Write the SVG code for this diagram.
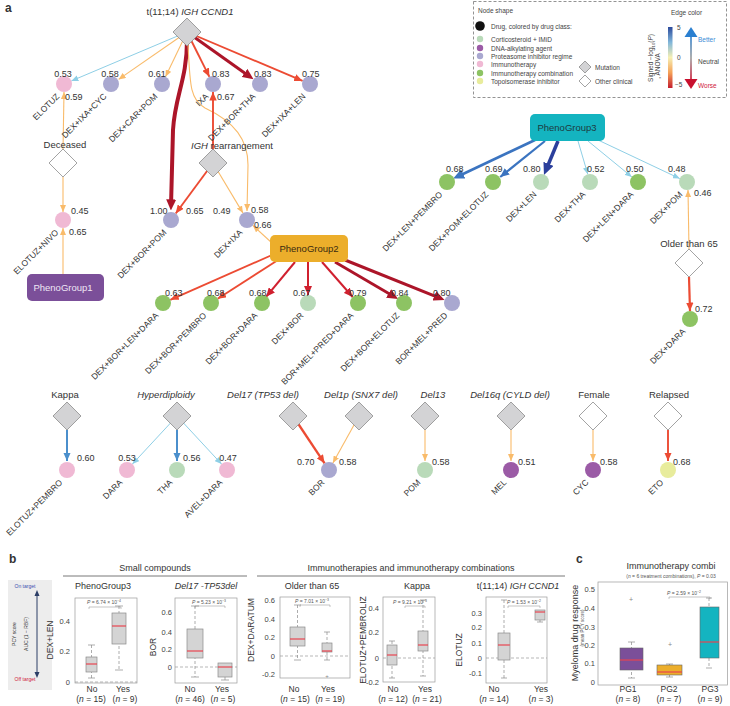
<svg xmlns="http://www.w3.org/2000/svg" width="730" height="706" viewBox="0 0 730 706">
<style>
text{font-family:"Liberation Sans",Arial,sans-serif;fill:#333}
.nl{font-size:8.5px;text-anchor:end}
.v{font-size:9px}
.vm{font-size:9px;text-anchor:middle}
.t{font-size:9.5px;text-anchor:middle}
.it{font-style:italic}
.e{fill:none}
.lb{stroke:#8ecfe6;stroke-width:1}
.or{stroke:#f9bb6a;stroke-width:1.1}
.ro{stroke:#ec4b33;stroke-width:1.9}
.cr{stroke:#d0202f;stroke-width:2}
.dr{stroke:#ac1529;stroke-width:3}
.bl{stroke:#3b74c0;stroke-width:2.2}
.db{stroke:#2b3f9c;stroke-width:3.5}
.kb{stroke:#4b8fcc;stroke-width:2}
.c-cg{fill:#b9dab9}.c-dna{fill:#9b5ba6}.c-pi{fill:#a9a8d0}.c-imm{fill:#f0b9d4}.c-ic{fill:#8dc363}.c-topo{fill:#e8ec9c}
.mut{fill:#d3d3d5;stroke:#8c8c8c;stroke-width:.8}
.cli{fill:#fff;stroke:#8c8c8c;stroke-width:.8}
.lg{font-size:6.5px;fill:#444}
.fr{fill:none;stroke:#9a9a9a;stroke-width:.7}
.bx{fill:#d4d4d4;stroke:#8a8a8a;stroke-width:.7}
.md{stroke:#e8434f;stroke-width:1.2}
.wh{stroke:#8a8a8a;stroke-width:.7;stroke-dasharray:3 2}
.cap{stroke:#8a8a8a;stroke-width:.7}
.zl{stroke:#9a9a9a;stroke-width:.7;stroke-dasharray:3 2}
.tk{font-size:7.5px;fill:#444;text-anchor:end}
.xl{font-size:8.5px;text-anchor:middle}
.pt{font-size:5px;fill:#555}
.yl{font-size:8.5px;text-anchor:middle}
.hd{font-size:9px;text-anchor:middle}
</style>
<defs>
<marker id="m-lb" markerUnits="userSpaceOnUse" markerWidth="7" markerHeight="6" viewBox="0 0 10 8" refX="10" refY="4" orient="auto" preserveAspectRatio="none"><path d="M0,0L10,4L0,8z" fill="#8ecfe6"/></marker>
<marker id="m-or" markerUnits="userSpaceOnUse" markerWidth="7" markerHeight="6" viewBox="0 0 10 8" refX="10" refY="4" orient="auto" preserveAspectRatio="none"><path d="M0,0L10,4L0,8z" fill="#f9bb6a"/></marker>
<marker id="m-ro" markerUnits="userSpaceOnUse" markerWidth="8.5" markerHeight="7.5" viewBox="0 0 10 8" refX="10" refY="4" orient="auto" preserveAspectRatio="none"><path d="M0,0L10,4L0,8z" fill="#ec4b33"/></marker>
<marker id="m-cr" markerUnits="userSpaceOnUse" markerWidth="9" markerHeight="8" viewBox="0 0 10 8" refX="10" refY="4" orient="auto" preserveAspectRatio="none"><path d="M0,0L10,4L0,8z" fill="#d0202f"/></marker>
<marker id="m-dr" markerUnits="userSpaceOnUse" markerWidth="11" markerHeight="10" viewBox="0 0 10 8" refX="6" refY="4" orient="auto" preserveAspectRatio="none"><path d="M0,0L10,4L0,8z" fill="#ac1529"/></marker>
<marker id="m-bl" markerUnits="userSpaceOnUse" markerWidth="9" markerHeight="8" viewBox="0 0 10 8" refX="10" refY="4" orient="auto" preserveAspectRatio="none"><path d="M0,0L10,4L0,8z" fill="#3b74c0"/></marker>
<marker id="m-blb" markerUnits="userSpaceOnUse" markerWidth="11" markerHeight="10" viewBox="0 0 10 8" refX="6" refY="4" orient="auto" preserveAspectRatio="none"><path d="M0,0L10,4L0,8z" fill="#3b74c0"/></marker>
<marker id="m-db" markerUnits="userSpaceOnUse" markerWidth="12" markerHeight="11" viewBox="0 0 10 8" refX="6" refY="4" orient="auto" preserveAspectRatio="none"><path d="M0,0L10,4L0,8z" fill="#2b3f9c"/></marker>
<marker id="m-kb" markerUnits="userSpaceOnUse" markerWidth="8.5" markerHeight="7.5" viewBox="0 0 10 8" refX="10" refY="4" orient="auto" preserveAspectRatio="none"><path d="M0,0L10,4L0,8z" fill="#4b8fcc"/></marker>
<linearGradient id="gbar" x1="0" y1="0" x2="0" y2="1">
<stop offset="0" stop-color="#2b4a9c"/><stop offset=".25" stop-color="#80b6da"/><stop offset=".5" stop-color="#f6f0b4"/><stop offset=".75" stop-color="#f5a057"/><stop offset="1" stop-color="#c41e2e"/>
</linearGradient>
<linearGradient id="garr" x1="0" y1="0" x2="0" y2="1">
<stop offset="0" stop-color="#2a7fd0"/><stop offset=".5" stop-color="#9a9a9a"/><stop offset="1" stop-color="#c8102e"/>
</linearGradient>
</defs>

<rect width="730" height="706" fill="#fff"/>
<text x="5" y="12" font-size="12" font-weight="bold" fill="#111">a</text>

<!-- legend -->
<g id="legend">
<rect x="473.5" y="1.5" width="253" height="96" fill="none" stroke="#777" stroke-width=".8" stroke-dasharray="3 2"/>
<text class="lg" x="478" y="13" font-size="5.8">Node shape</text>
<circle cx="480" cy="26" r="4.8" fill="#111"/>
<text class="lg" x="491" y="29">Drug, colored by drug class:</text>
<circle class="c-cg" cx="480" cy="39" r="3.2"/><text class="lg" x="491" y="41.5">Corticosteroid + IMiD</text>
<circle class="c-dna" cx="480" cy="48" r="3.2"/><text class="lg" x="491" y="50.5">DNA-alkylating agent</text>
<circle class="c-pi" cx="480" cy="56" r="3.2"/><text class="lg" x="491" y="58.5">Proteasome inhibitor regime</text>
<circle class="c-imm" cx="480" cy="64" r="3.2"/><text class="lg" x="491" y="66.5">Immunotherapy</text>
<circle class="c-ic" cx="480" cy="73" r="3.2"/><text class="lg" x="491" y="75.5">Immunotherapy combination</text>
<circle class="c-topo" cx="480" cy="81" r="3.2"/><text class="lg" x="491" y="83.5">Topoisomerase inhibitor</text>
<polygon class="mut" points="585,61 591,67 585,73 579,67"/><text class="lg" x="595" y="69.5">Mutation</text>
<polygon class="cli" points="585,75 591,81 585,87 579,81"/><text class="lg" x="595" y="83.5">Other clinical</text>
<text class="lg" x="671" y="15" font-size="6.8">Edge color</text>
<rect x="668" y="27" width="4.5" height="61" fill="url(#gbar)"/>
<text class="lg" x="677" y="30">5</text>
<text class="lg" x="677" y="60">0</text>
<text class="lg" x="675" y="87">−5</text>
<text class="lg" transform="translate(653,58) rotate(-90)" text-anchor="middle">Signed −log<tspan font-size="4.2" dy="1.5">10</tspan><tspan dy="-1.5">(</tspan><tspan font-style="italic">P</tspan>)</text>
<text class="lg" transform="translate(660,66) rotate(-90)" text-anchor="middle">, ANOVA</text>
<rect x="690.2" y="36" width="1.6" height="44" fill="url(#garr)"/>
<polygon points="684.5,37 697.5,37 691,27" fill="#2a7fd0"/>
<polygon points="684.5,79 697.5,79 691,89" fill="#c8102e"/>
<text class="lg" x="698" y="42" style="fill:#3a8bd6">Better</text>
<text class="lg" x="698" y="64">Neutral</text>
<text class="lg" x="698" y="88" style="fill:#d0203a">Worse</text>
</g>

<!-- connectors -->
<g id="connectors">
<path class="e lb" d="M187,32 L71.4,80.9" marker-end="url(#m-lb)"/>
<path class="e or" d="M187,32 L118.6,79.4" marker-end="url(#m-or)"/>
<path class="e or" d="M187,32 L165.5,76.8" marker-end="url(#m-or)"/>
<path class="e ro" d="M187,32 L209.4,76.8" marker-end="url(#m-ro)"/>
<path class="e dr" d="M187,32 L249.9,76.8" marker-end="url(#m-dr)"/>
<path class="e ro" d="M187,32 L302.6,80.9" marker-end="url(#m-ro)"/>
<path class="e dr" style="stroke-width:4" d="M187,40 C187,80 175,95 173,130 L171,206" marker-end="url(#m-dr)"/>
<path class="e or" d="M188,44 C190,85 190,100 205,108 C235,122 248,140 248,165 L247,211" marker-end="url(#m-or)"/>
<path class="e ro" d="M213,150 L213,92" marker-end="url(#m-ro)"/>
<path class="e ro" d="M213,163 L175.7,213.5" marker-end="url(#m-ro)"/>
<path class="e or" d="M213,163 L243,213.1" marker-end="url(#m-or)"/>
<path class="e or" d="M63,150 L64,92" marker-end="url(#m-or)"/>
<path class="e or" d="M63,177 L63,212" marker-end="url(#m-or)"/>
<path class="e or" d="M63,274 L63,228" marker-end="url(#m-or)"/>
<path class="e or" d="M272,243 L252.9,225.4" marker-end="url(#m-or)"/>
<path class="e ro" d="M272,255 L170.3,299.8" marker-end="url(#m-ro)"/>
<path class="e ro" d="M278,260 L217.7,298.7" marker-end="url(#m-ro)"/>
<path class="e cr" d="M295,262 L266.1,296.8" marker-end="url(#m-cr)"/>
<path class="e cr" d="M308,262 L308,295" marker-end="url(#m-cr)"/>
<path class="e cr" d="M322,262 L352.7,297" marker-end="url(#m-cr)"/>
<path class="e dr" style="stroke-width:2.8" d="M335,262 L394.3,296.8" marker-end="url(#m-dr)"/>
<path class="e dr" d="M345,260 L440.5,298.4" marker-end="url(#m-dr)"/>
<path class="e bl" style="stroke-width:2.6" d="M535,140 L457.2,176.7" marker-end="url(#m-blb)"/>
<path class="e bl" d="M545,141 L500.2,177" marker-end="url(#m-bl)"/>
<path class="e db" d="M558,141 L545.8,170.5" marker-end="url(#m-db)"/>
<path class="e lb" d="M578,141 L587.8,174.3" marker-end="url(#m-lb)"/>
<path class="e lb" d="M588,141 L631.8,176.9" marker-end="url(#m-lb)"/>
<path class="e lb" d="M598,140 L679.8,178.6" marker-end="url(#m-lb)"/>
<path class="e or" d="M689,249 L688,190" marker-end="url(#m-or)"/>
<path class="e ro" style="stroke-width:2.2" d="M689,277 L690,311" marker-end="url(#m-ro)"/>
<path class="e kb" d="M67,430 L67,461" marker-end="url(#m-kb)"/>
<path class="e lb" d="M177,416 L132.4,464.1" marker-end="url(#m-lb)"/>
<path class="e kb" d="M177,430 L177,461" marker-end="url(#m-kb)"/>
<path class="e lb" d="M177,416 L221.6,464.1" marker-end="url(#m-lb)"/>
<path class="e ro" style="stroke-width:2.3" d="M293,416 L324.6,463.3" marker-end="url(#m-ro)"/>
<path class="e or" d="M359,416 L332.9,463" marker-end="url(#m-or)"/>
<path class="e or" d="M425,430 L425,461" marker-end="url(#m-or)"/>
<path class="e or" d="M511,430 L511,461" marker-end="url(#m-or)"/>
<path class="e or" d="M593,430 L593,461" marker-end="url(#m-or)"/>
<path class="e ro" d="M668,430 L668,461" marker-end="url(#m-ro)"/>
</g>

<!-- clinical / mutation nodes -->
<g id="n-t1114"><polygon class="mut" points="187,18 201,32 187,46 173,32"/><text class="t" x="190" y="15">t(11;14) <tspan class="it">IGH CCND1</tspan></text></g>
<g id="n-deceased"><polygon class="cli" points="63,149 77,163 63,177 49,163"/><text class="t" x="65" y="148">Deceased</text></g>
<g id="n-igh"><polygon class="mut" points="213,149 227,163 213,177 199,163"/><text class="t" x="232" y="149"><tspan class="it">IGH</tspan> rearrangement</text></g>
<g id="n-older65"><polygon class="cli" points="689,249 703,263 689,277 675,263"/><text class="t" x="689" y="247">Older than 65</text></g>
<g id="n-kappa"><polygon class="mut" points="67,402 81,416 67,430 53,416"/><text class="t" x="65" y="398">Kappa</text></g>
<g id="n-hyper"><polygon class="mut" points="177,402 191,416 177,430 163,416"/><text class="t it" x="166" y="398">Hyperdiploidy</text></g>
<g id="n-del17"><polygon class="mut" points="293,402 307,416 293,430 279,416"/><text class="t it" x="263" y="398">Del17 (TP53 del)</text></g>
<g id="n-del1p"><polygon class="mut" points="359,402 373,416 359,430 345,416"/><text class="t it" x="361" y="398">Del1p (SNX7 del)</text></g>
<g id="n-del13"><polygon class="mut" points="425,402 439,416 425,430 411,416"/><text class="t it" x="433" y="398">Del13</text></g>
<g id="n-del16q"><polygon class="mut" points="511,402 525,416 511,430 497,416"/><text class="t it" x="510" y="398">Del16q (CYLD del)</text></g>
<g id="n-female"><polygon class="cli" points="593,402 607,416 593,430 579,416"/><text class="t" x="594" y="398">Female</text></g>
<g id="n-relapsed"><polygon class="cli" points="668,402 682,416 668,430 654,416"/><text class="t" x="669" y="398">Relapsed</text></g>

<g id="n-pg1"><rect x="27" y="274" width="77" height="27" rx="5" fill="#7b4f99"/><text class="t" x="63" y="291" style="fill:#efe6f5">PhenoGroup1</text></g>
<g id="n-pg2"><rect x="270" y="235" width="78" height="27" rx="5" fill="#ecae2b"/><text class="t" x="309" y="252" style="fill:#3a2a10">PhenoGroup2</text></g>
<g id="n-pg3"><rect x="530" y="114" width="75" height="27" rx="5" fill="#14b4c0"/><text class="t" x="567" y="131" style="fill:#1d3b40">PhenoGroup3</text></g>

<!-- drug nodes -->
<g id="n-elotuz"><circle class="c-imm" cx="64" cy="84" r="8"/><text class="vm" x="63" y="77">0.53</text><text class="v" x="65" y="100">0.59</text><text class="nl" transform="translate(60,97) rotate(-45)">ELOTUZ</text></g>
<g id="n-dexixacyc"><circle class="c-pi" cx="111" cy="84" r="8"/><text class="vm" x="110" y="77">0.58</text><text class="nl" transform="translate(107,97) rotate(-45)">DEX+IXA+CYC</text></g>
<g id="n-dexcarpom"><circle class="c-pi" cx="162" cy="84" r="8"/><text class="vm" x="157" y="77">0.61</text><text class="nl" transform="translate(158,97) rotate(-45)">DEX+CAR+POM</text></g>
<g id="n-ixa"><circle class="c-pi" cx="213" cy="84" r="8"/><text class="v" x="212" y="77">0.83</text><text class="v" x="217" y="100">0.67</text><text class="nl" transform="translate(209,97) rotate(-45)">IXA</text></g>
<g id="n-dexbortha"><circle class="c-pi" cx="260" cy="84" r="8"/><text class="v" x="254" y="77">0.83</text><text class="nl" transform="translate(256,97) rotate(-45)">DEX+BOR+THA</text></g>
<g id="n-dexixalen"><circle class="c-pi" cx="310" cy="84" r="8"/><text class="v" x="302" y="77">0.75</text><text class="nl" transform="translate(306,97) rotate(-45)">DEX+IXA+LEN</text></g>

<g id="n-elotuznivo"><circle class="c-imm" cx="63" cy="220" r="8"/><text class="v" x="71" y="214">0.45</text><text class="v" x="69" y="235">0.65</text><text class="nl" transform="translate(59,233) rotate(-45)">ELOTUZ+NIVO</text></g>
<g id="n-dexborpom"><circle class="c-pi" cx="171" cy="220" r="8"/><text class="v" x="150" y="214">1.00</text><text class="v" x="186" y="214">0.65</text><text class="nl" transform="translate(167,233) rotate(-45)">DEX+BOR+POM</text></g>
<g id="n-dexixa"><circle class="c-pi" cx="247" cy="220" r="8"/><text class="v" x="213" y="214">0.49</text><text class="v" x="251" y="213">0.58</text><text class="v" x="254" y="228">0.66</text><text class="nl" transform="translate(243,233) rotate(-45)">DEX+IXA</text></g>

<g id="n-dexborlendara"><circle class="c-ic" cx="163" cy="303" r="8"/><text class="v" x="165" y="296">0.63</text><text class="nl" transform="translate(159,316) rotate(-45)">DEX+BOR+LEN+DARA</text></g>
<g id="n-dexborpembro"><circle class="c-ic" cx="211" cy="303" r="8"/><text class="v" x="207" y="296">0.68</text><text class="nl" transform="translate(207,316) rotate(-45)">DEX+BOR+PEMBRO</text></g>
<g id="n-dexbordara"><circle class="c-ic" cx="262" cy="303" r="8"/><text class="v" x="249" y="296">0.68</text><text class="nl" transform="translate(258,316) rotate(-45)">DEX+BOR+DARA</text></g>
<g id="n-dexbor"><circle class="c-cg" cx="308" cy="303" r="8"/><text class="v" x="293" y="296">0.67</text><text class="nl" transform="translate(304,316) rotate(-45)">DEX+BOR</text></g>
<g id="n-bormelpreddara"><circle class="c-ic" cx="358" cy="303" r="8"/><text class="v" x="349" y="296">0.79</text><text class="nl" transform="translate(354,316) rotate(-45)">BOR+MEL+PRED+DARA</text></g>
<g id="n-dexborelotuz"><circle class="c-ic" cx="404" cy="303" r="8"/><text class="v" x="391" y="296">0.84</text><text class="nl" transform="translate(400,316) rotate(-45)">DEX+BOR+ELOTUZ</text></g>
<g id="n-bormelpred"><circle class="c-pi" cx="452" cy="303" r="8"/><text class="v" x="433" y="296">0.80</text><text class="nl" transform="translate(448,316) rotate(-45)">BOR+MEL+PRED</text></g>

<g id="n-dexlenpembro"><circle class="c-ic" cx="447" cy="182" r="8"/><text class="v" x="446" y="172">0.68</text><text class="nl" transform="translate(443,195) rotate(-45)">DEX+LEN+PEMBRO</text></g>
<g id="n-dexpomelotuz"><circle class="c-ic" cx="493" cy="182" r="8"/><text class="v" x="485" y="172">0.69</text><text class="nl" transform="translate(489,195) rotate(-45)">DEX+POM+ELOTUZ</text></g>
<g id="n-dexlen"><circle class="c-cg" cx="541" cy="182" r="8"/><text class="v" x="523" y="172">0.80</text><text class="nl" transform="translate(537,195) rotate(-45)">DEX+LEN</text></g>
<g id="n-dextha"><circle class="c-cg" cx="590" cy="182" r="8"/><text class="v" x="587" y="172">0.52</text><text class="nl" transform="translate(586,195) rotate(-45)">DEX+THA</text></g>
<g id="n-dexlendara"><circle class="c-ic" cx="638" cy="182" r="8"/><text class="v" x="626" y="172">0.50</text><text class="nl" transform="translate(634,195) rotate(-45)">DEX+LEN+DARA</text></g>
<g id="n-dexpom"><circle class="c-cg" cx="687" cy="182" r="8"/><text class="v" x="668" y="172">0.48</text><text class="v" x="694" y="196">0.46</text><text class="nl" transform="translate(683,195) rotate(-45)">DEX+POM</text></g>
<g id="n-dexdara"><circle class="c-ic" cx="690" cy="319" r="8"/><text class="v" x="695" y="312">0.72</text><text class="nl" transform="translate(686,332) rotate(-45)">DEX+DARA</text></g>

<g id="n-elotuzpembro"><circle class="c-imm" cx="67" cy="470" r="8"/><text class="v" x="77" y="461">0.60</text><text class="nl" transform="translate(63,483) rotate(-45)">ELOTUZ+PEMBRO</text></g>
<g id="n-dara"><circle class="c-imm" cx="127" cy="470" r="8"/><text class="vm" x="127" y="461">0.53</text><text class="nl" transform="translate(123,483) rotate(-45)">DARA</text></g>
<g id="n-tha"><circle class="c-cg" cx="177" cy="470" r="8"/><text class="v" x="183" y="461">0.56</text><text class="nl" transform="translate(173,483) rotate(-45)">THA</text></g>
<g id="n-aveldara"><circle class="c-imm" cx="227" cy="470" r="8"/><text class="vm" x="228" y="461">0.47</text><text class="nl" transform="translate(223,483) rotate(-45)">AVEL+DARA</text></g>
<g id="n-bor"><circle class="c-pi" cx="329" cy="470" r="8"/><text class="v" x="297" y="465">0.70</text><text class="v" x="339" y="465">0.58</text><text class="nl" transform="translate(325,483) rotate(-45)">BOR</text></g>
<g id="n-pom"><circle class="c-cg" cx="425" cy="470" r="8"/><text class="v" x="432" y="465">0.58</text><text class="nl" transform="translate(421,483) rotate(-45)">POM</text></g>
<g id="n-mel"><circle class="c-dna" cx="511" cy="470" r="8"/><text class="v" x="518" y="465">0.51</text><text class="nl" transform="translate(507,483) rotate(-45)">MEL</text></g>
<g id="n-cyc"><circle class="c-dna" cx="593" cy="470" r="8"/><text class="v" x="600" y="465">0.58</text><text class="nl" transform="translate(589,483) rotate(-45)">CYC</text></g>
<g id="n-eto"><circle class="c-topo" cx="668" cy="470" r="8"/><text class="v" x="673" y="465">0.68</text><text class="nl" transform="translate(664,483) rotate(-45)">ETO</text></g>

<!-- panel b -->
<text x="9" y="563" font-size="12" font-weight="bold" fill="#111">b</text>
<text class="hd" x="155" y="571">Small compounds</text>
<line x1="63" y1="576" x2="247" y2="576" stroke="#555" stroke-width=".8"/>
<text class="hd" x="411" y="571">Immunotherapies and immunotherapy combinations</text>
<line x1="257" y1="576" x2="565" y2="576" stroke="#555" stroke-width=".8"/>

<g id="b-legend">
<rect x="8" y="580" width="44" height="110" fill="#ededed"/>
<text x="25" y="588" font-size="5" text-anchor="middle" style="fill:#3d4fb0">On target</text>
<text x="25" y="681" font-size="5" text-anchor="middle" style="fill:#d0203a">Off target</text>
<line x1="37" y1="594" x2="37" y2="674" stroke="#2c3e66" stroke-width="1"/>
<polygon points="34.5,596 39.5,596 37,590" fill="#2c3e66"/>
<polygon points="34.5,672 39.5,672 37,678" fill="#2c3e66"/>
<text transform="translate(16,634) rotate(-90)" font-size="5" text-anchor="middle">PCY score</text>
<text transform="translate(28,634) rotate(-90)" font-size="5" text-anchor="middle">AUC (1 − RBF)</text>
</g>

<g id="b-plot1">
<text class="hd" x="103" y="589">PhenoGroup3</text>
<rect class="fr" x="75" y="598" width="62" height="85"/>
<text class="tk" x="70" y="624">0.4</text><text class="tk" x="70" y="654">0.2</text><text class="tk" x="70" y="685">0</text>
<text class="yl" transform="translate(53,640) rotate(-90)">DEX+LEN</text>
<line class="zl" x1="75" y1="682" x2="137" y2="682"/>
<line class="wh" x1="91.5" y1="645" x2="91.5" y2="678"/>
<line class="cap" x1="88" y1="645" x2="95" y2="645"/><line class="cap" x1="88" y1="678" x2="95" y2="678"/>
<rect class="bx" x="86" y="657" width="11" height="15"/><line class="md" x1="86" y1="664" x2="97" y2="664"/>
<line class="wh" x1="119" y1="606" x2="119" y2="670"/>
<line class="cap" x1="115" y1="606" x2="123" y2="606"/><line class="cap" x1="115" y1="670" x2="123" y2="670"/>
<rect class="bx" x="112" y="613" width="14" height="31"/><line class="md" x1="112" y1="626" x2="126" y2="626"/>
<text class="pt" x="87" y="604"><tspan font-style="italic">P</tspan> = 6.74 × 10<tspan dy="-2" font-size="3.5">−4</tspan></text>
<path d="M89,609 V607 H121 V609" fill="none" stroke="#888" stroke-width=".5"/>
<text class="xl" x="92" y="692">No</text><text class="xl" x="123" y="692">Yes</text>
<text class="xl" x="91" y="702">(<tspan font-style="italic">n</tspan> = 15)</text><text class="xl" x="125" y="702">(<tspan font-style="italic">n</tspan> = 9)</text>
</g>

<g id="b-plot2">
<text class="hd it" x="206" y="589">Del17 -TP53del</text>
<rect class="fr" x="175" y="598" width="62" height="85"/>
<text class="tk" x="172" y="615">0.6</text><text class="tk" x="172" y="635">0.4</text><text class="tk" x="172" y="652">0.2</text><text class="tk" x="172" y="670">0</text>
<text class="yl" transform="translate(156,647) rotate(-90)">BOR</text>
<line class="zl" x1="175" y1="667" x2="237" y2="667"/>
<line class="wh" x1="195" y1="606" x2="195" y2="677"/>
<line class="cap" x1="191" y1="606" x2="199" y2="606"/><line class="cap" x1="191" y1="677" x2="199" y2="677"/>
<rect class="bx" x="187" y="629" width="16" height="29"/><line class="md" x1="187" y1="651" x2="203" y2="651"/>
<line class="wh" x1="225" y1="677" x2="225" y2="680"/>
<line class="cap" x1="221" y1="680" x2="229" y2="680"/>
<rect class="bx" x="218" y="663" width="14" height="14"/><line class="md" x1="218" y1="667" x2="232" y2="667"/>
<text class="pt" x="192" y="604"><tspan font-style="italic">P</tspan> = 5.23 × 10<tspan dy="-2" font-size="3.5">−3</tspan></text>
<path d="M195,608 V606 H225 V608" fill="none" stroke="#888" stroke-width=".5"/>
<text class="xl" x="190" y="692">No</text><text class="xl" x="222" y="692">Yes</text>
<text class="xl" x="190" y="702">(<tspan font-style="italic">n</tspan> = 46)</text><text class="xl" x="223" y="702">(<tspan font-style="italic">n</tspan> = 5)</text>
</g>

<g id="b-plot3">
<text class="hd" x="312" y="589">Older than 65</text>
<rect class="fr" x="280" y="597" width="70" height="81"/>
<text class="tk" x="275" y="603">0.6</text><text class="tk" x="275" y="622">0.4</text><text class="tk" x="275" y="640">0.2</text><text class="tk" x="275" y="659">0</text><text class="tk" x="275" y="677">-0.2</text>
<text class="yl" transform="translate(254,630) rotate(-90)">DEX+DARATUM</text>
<line class="zl" x1="280" y1="656" x2="350" y2="656"/>
<line class="wh" x1="297.5" y1="605" x2="297.5" y2="660"/>
<line class="cap" x1="294" y1="605" x2="301" y2="605"/><line class="cap" x1="294" y1="660" x2="301" y2="660"/>
<rect class="bx" x="290" y="627" width="15" height="19"/><line class="md" x1="290" y1="639" x2="305" y2="639"/>
<line class="wh" x1="327" y1="632" x2="327" y2="660"/>
<line class="cap" x1="324" y1="632" x2="330" y2="632"/><line class="cap" x1="324" y1="660" x2="330" y2="660"/>
<rect class="bx" x="322" y="643" width="10" height="9"/><line class="md" x1="322" y1="651" x2="332" y2="651"/>
<text x="327" y="678" font-size="6" text-anchor="middle" style="fill:#888">+</text>
<text class="pt" x="295" y="603"><tspan font-style="italic">P</tspan> = 7.01 × 10<tspan dy="-2" font-size="3.5">−3</tspan></text>
<path d="M300,607 V605 H330 V607" fill="none" stroke="#888" stroke-width=".5"/>
<text class="xl" x="294" y="692">No</text><text class="xl" x="328" y="692">Yes</text>
<text class="xl" x="295" y="702">(<tspan font-style="italic">n</tspan> = 15)</text><text class="xl" x="330" y="702">(<tspan font-style="italic">n</tspan> = 19)</text>
</g>

<g id="b-plot4">
<text class="hd" x="417" y="589">Kappa</text>
<rect class="fr" x="383" y="597" width="52" height="85"/>
<text class="tk" x="379" y="611">0.4</text><text class="tk" x="379" y="635">0.2</text><text class="tk" x="379" y="661">0</text><text class="tk" x="379" y="685">-0.2</text>
<text class="yl" transform="translate(366,640) rotate(-90)" font-size="8">ELOTUZ+PEMBROLIZ</text>
<line class="zl" x1="383" y1="658" x2="435" y2="658"/>
<line class="wh" x1="392" y1="641" x2="392" y2="678"/>
<line class="cap" x1="389" y1="641" x2="395" y2="641"/><line class="cap" x1="389" y1="678" x2="395" y2="678"/>
<rect class="bx" x="387" y="645" width="10" height="20"/><line class="md" x1="387" y1="655" x2="397" y2="655"/>
<line class="wh" x1="423" y1="600" x2="423" y2="676"/>
<line class="cap" x1="420" y1="600" x2="426" y2="600"/><line class="cap" x1="420" y1="676" x2="426" y2="676"/>
<rect class="bx" x="418" y="631" width="10" height="20"/><line class="md" x1="418" y1="645" x2="428" y2="645"/>
<text class="pt" x="393" y="604"><tspan font-style="italic">P</tspan> = 9.21 × 10<tspan dy="-2" font-size="3.5">−3</tspan></text>
<path d="M405,608 V606 H425 V608" fill="none" stroke="#888" stroke-width=".5"/>
<text class="xl" x="393" y="692">No</text><text class="xl" x="425" y="692">Yes</text>
<text class="xl" x="393" y="702">(<tspan font-style="italic">n</tspan> = 12)</text><text class="xl" x="427" y="702">(<tspan font-style="italic">n</tspan> = 21)</text>
</g>

<g id="b-plot5">
<text class="hd" x="518" y="589">t(11;14) <tspan class="it">IGH CCND1</tspan></text>
<rect class="fr" x="486" y="597" width="61" height="86"/>
<text class="tk" x="482" y="616">0.3</text><text class="tk" x="482" y="630">0.2</text><text class="tk" x="482" y="646">0.1</text><text class="tk" x="482" y="661">0</text><text class="tk" x="482" y="676">-0.1</text>
<text class="yl" transform="translate(462,650) rotate(-90)">ELOTUZ</text>
<line class="zl" x1="486" y1="658" x2="547" y2="658"/>
<line class="wh" x1="504" y1="600" x2="504" y2="678"/>
<line class="cap" x1="501" y1="600" x2="507" y2="600"/><line class="cap" x1="501" y1="678" x2="507" y2="678"/>
<rect class="bx" x="498" y="633" width="12" height="27"/><line class="md" x1="498" y1="645" x2="510" y2="645"/>
<line class="wh" x1="540" y1="620" x2="540" y2="622"/>
<line class="cap" x1="537" y1="622" x2="543" y2="622"/>
<rect class="bx" x="535" y="610" width="10" height="10"/><line class="md" x1="535" y1="612" x2="545" y2="612"/>
<text class="pt" x="507" y="604"><tspan font-style="italic">P</tspan> = 1.53 × 10<tspan dy="-2" font-size="3.5">−2</tspan></text>
<path d="M508,608 V606 H540 V608" fill="none" stroke="#888" stroke-width=".5"/>
<text class="xl" x="494" y="692">No</text><text class="xl" x="541" y="692">Yes</text>
<text class="xl" x="494" y="702">(<tspan font-style="italic">n</tspan> = 14)</text><text class="xl" x="541" y="702">(<tspan font-style="italic">n</tspan> = 3)</text>
</g>

<!-- panel c -->
<text x="576" y="563" font-size="12" font-weight="bold" fill="#111">c</text>
<g id="c-plot">
<text x="671" y="569" font-size="9" text-anchor="middle">Immunotherapy combi</text>
<text x="671" y="578" font-size="5" text-anchor="middle" style="fill:#555">(<tspan font-style="italic">n</tspan> = 6 treatment combinations), <tspan font-style="italic">P</tspan> = 0.03</text>
<rect class="fr" x="598" y="582" width="129.5" height="103"/>
<text class="tk" x="595" y="592">0.5</text><text class="tk" x="595" y="611">0.4</text><text class="tk" x="595" y="630">0.3</text><text class="tk" x="595" y="648">0.2</text><text class="tk" x="595" y="666">0.1</text><text class="tk" x="595" y="685">0</text>
<text transform="translate(578,633) rotate(-90)" font-size="9" text-anchor="middle">Myeloma drug response</text>
<text transform="translate(584,628) rotate(-90)" font-size="4.5" text-anchor="middle" style="fill:#555">(mean PCY score)</text>
<line class="wh" x1="631.5" y1="642" x2="631.5" y2="678"/>
<line class="cap" x1="628" y1="642" x2="635" y2="642"/><line class="cap" x1="628" y1="678" x2="635" y2="678"/>
<rect x="620" y="648" width="23" height="22" fill="#7b4f99" stroke="#666" stroke-width=".6"/><line class="md" x1="620" y1="660" x2="643" y2="660"/>
<text x="631" y="602" font-size="7" text-anchor="middle" style="fill:#888">+</text>
<line class="wh" x1="669.5" y1="664" x2="669.5" y2="677"/>
<line class="cap" x1="666" y1="664" x2="673" y2="664"/><line class="cap" x1="666" y1="677" x2="673" y2="677"/>
<rect x="657" y="665" width="25" height="10" fill="#ecae2b" stroke="#666" stroke-width=".6"/><line class="md" x1="657" y1="672" x2="682" y2="672"/>
<text x="670" y="647" font-size="7" text-anchor="middle" style="fill:#888">+</text>
<line class="wh" x1="709" y1="598" x2="709" y2="668"/>
<line class="cap" x1="706" y1="598" x2="712" y2="598"/><line class="cap" x1="706" y1="668" x2="712" y2="668"/>
<rect x="700" y="607" width="19" height="51" fill="#14b4c0" stroke="#666" stroke-width=".6"/><line class="md" x1="700" y1="642" x2="719" y2="642"/>
<text class="pt" x="667" y="595"><tspan font-style="italic">P</tspan> = 2.59 × 10<tspan dy="-2" font-size="3.5">−2</tspan></text>
<path d="M669,599 V597 H710 V599" fill="none" stroke="#888" stroke-width=".5"/>
<text class="xl" x="628" y="692">PG1</text><text class="xl" x="669" y="692">PG2</text><text class="xl" x="710" y="692">PG3</text>
<text class="xl" x="628" y="702">(<tspan font-style="italic">n</tspan> = 8)</text><text class="xl" x="669" y="702">(<tspan font-style="italic">n</tspan> = 7)</text><text class="xl" x="710" y="702">(<tspan font-style="italic">n</tspan> = 9)</text>
</g>
</svg>
